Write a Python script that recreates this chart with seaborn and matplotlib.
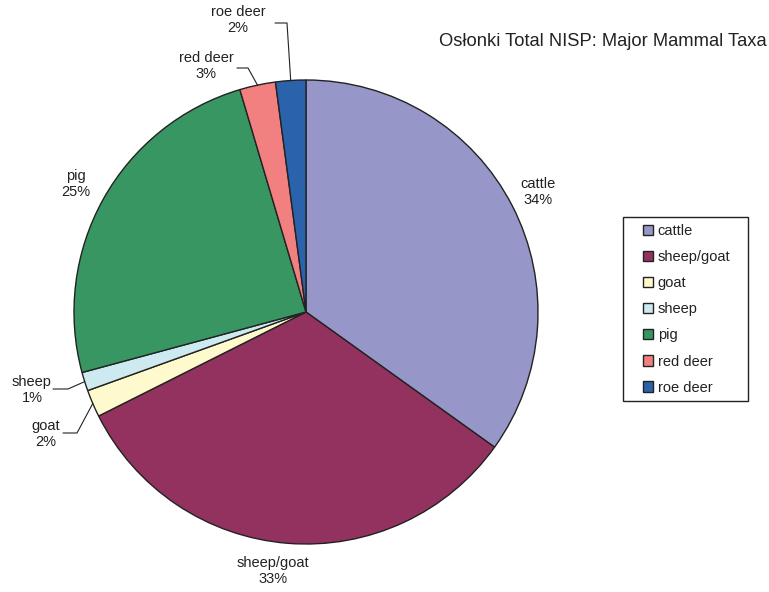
import matplotlib
matplotlib.use("Agg")
import matplotlib.pyplot as plt
from matplotlib.patches import Rectangle
import seaborn as sns
import numpy as np

sns.set_theme(style="white")
plt.rcParams['font.family'] = ['Liberation Sans', 'DejaVu Sans']

categories = ["cattle", "sheep/goat", "goat", "sheep", "pig", "red deer", "roe deer"]
values = [34.9, 32.7, 1.9, 1.3, 24.6, 2.5, 2.1]
label_pcts = [34, 33, 2, 1, 25, 3, 2]
colors = ["#9696C9", "#93325F", "#FFFACD", "#CDEAF0", "#389663", "#F28080", "#2B62AC"]
title = "Osłonki Total NISP: Major Mammal Taxa"

W, H = 769, 592
fig = plt.figure(figsize=(W / 100, H / 100), dpi=100)
cx, cy, R = 306, 312, 232
ax = fig.add_axes([(cx - R) / W, (H - cy - R) / H, 2 * R / W, 2 * R / H])

wedges, _ = ax.pie(values, colors=colors, startangle=90, counterclock=False,
                   radius=1.0, wedgeprops=dict(edgecolor="#222222", linewidth=1.0))
ax.set_xlim(-1, 1)
ax.set_ylim(-1, 1)
ax.set_aspect("equal")
ax.axis("off")

def px(x, y):
    return ((x - cx) / R, (cy - y) / R)

def lab(i):
    return f"{categories[i]}\n{label_pcts[i]}%"

fs = 10.5
for i, pos in [(0, (538, 192)), (1, (273, 571)), (4, (76, 184))]:
    ax.text(*px(*pos), lab(i), ha="center", va="center", fontsize=fs,
            color="#222222", linespacing=1.1)

leaders = {
    6: ((238, 20), (287, 23), (275, 23)),
    5: ((206, 66), (248, 68), (237, 68)),
    3: ((32, 390), (68, 389), (53, 389)),
    2: ((46, 434), (77, 433), (63, 433)),
}
for i, (tpos, elbow, lend) in leaders.items():
    w = wedges[i]
    ang = np.deg2rad((w.theta1 + w.theta2) / 2)
    ax_, ay_ = np.cos(ang), np.sin(ang)
    ex, ey = px(*elbow)
    lx, ly = px(*lend)
    ax.plot([ax_, ex, lx], [ay_, ey, ly], color="#222222", lw=0.8, clip_on=False)
    ax.text(*px(*tpos), lab(i), ha="center", va="center", fontsize=fs,
            color="#222222", linespacing=1.1)

fig.text(603 / W, 1 - 42 / H, title, ha="center", va="center", fontsize=13.2, color="#222222")

# legend frame
fig.patches.append(Rectangle((623 / W, 1 - 401 / H), 125 / W, 184 / H,
                             transform=fig.transFigure, facecolor="white",
                             edgecolor="#222222", linewidth=1.0, zorder=0))
leg = fig.legend(wedges, categories, loc="upper left",
                 bbox_to_anchor=(643 / W, 1 - 224 / H), fontsize=10.5,
                 frameon=False, handlelength=0.7, handleheight=0.7,
                 handletextpad=0.3, labelspacing=0.83, borderpad=0,
                 borderaxespad=0)
for t in leg.get_texts():
    t.set_color("#222222")

fig.savefig("out.png", dpi=100, facecolor="white")
